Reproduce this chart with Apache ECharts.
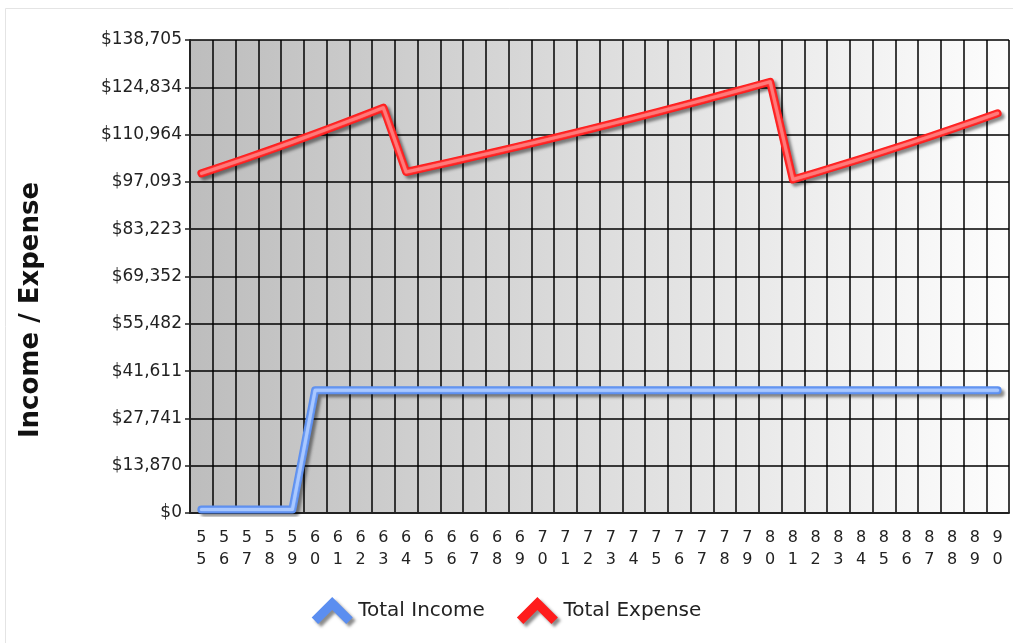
<!DOCTYPE html>
<html>
<head>
<meta charset="utf-8">
<script src="https://cdn.jsdelivr.net/npm/echarts@6/dist/echarts.min.js"></script>
<style>
html,body{margin:0;padding:0;background:#fff;}
#chart{width:1013px;height:643px;}
</style>
</head>
<body>
<div id="chart"></div>
<script>
var ages = ['55','56','57','58','59','60','61','62','63','64','65','66','67','68','69','70','71','72','73','74','75','76','77','78','79','80','81','82','83','84','85','86','87','88','89','90'];
var totalIncome = [1000,1000,1000,1000,1000,36000,36000,36000,36000,36000,36000,36000,36000,36000,36000,36000,36000,36000,36000,36000,36000,36000,36000,36000,36000,36000,36000,36000,36000,36000,36000,36000,36000,36000,36000,36000];
var totalExpense = [99600,101825,104100,106425,108800,111230,113715,116255,118850,100000,101478,102978,104500,106044,107611,109202,110816,112453,114115,115802,117513,119250,121012,122801,124615,126457,97800,99788,101817,103887,105999,108154,110353,112596,114885,117220];
var yTickLabels = ['$0','$13,870','$27,741','$41,611','$55,482','$69,352','$83,223','$97,093','$110,964','$124,834','$138,705'];
var yMax = 138705;
var yStep = 13870.5;
var yTitle = 'Income / Expense';
var seriesNames = ['Total Income','Total Expense'];

var chart = echarts.init(document.getElementById('chart'), null, {renderer:'canvas'});
var chevron = 'path://M0,19 L19,0 L38,19 L32,25 L19,12 L6,25 Z';
var font = 'DejaVu Sans';
var shadow = {shadowColor:'rgba(0,0,0,0.45)', shadowBlur:3, shadowOffsetX:3, shadowOffsetY:3};
chart.setOption({
  animation:false,
  backgroundColor:'#fff',
  graphic:[
    {type:'rect', left:3, top:6, shape:{width:1030, height:700}, style:{fill:'none', stroke:'#e4e4e4', lineWidth:1}, z:-10},
    {type:'text', x:31, y:310, rotation:Math.PI/2,
     style:{text:yTitle, font:'bold 26px "DejaVu Sans"', fill:'#111', align:'center', verticalAlign:'middle'}}
  ],
  grid:{left:190, right:4, top:40, bottom:130, show:true, borderWidth:0,
    backgroundColor:{type:'linear', x:0, y:0, x2:1, y2:0, colorStops:[{offset:0,color:'#bdbdbd'},{offset:1,color:'#fdfdfd'}]}},
  legend:{
    data:[{name:seriesNames[0], icon:chevron},{name:seriesNames[1], icon:chevron}],
    bottom:14, left:'center', itemWidth:42, itemHeight:27, itemGap:32,
    textStyle:{fontFamily:font, fontSize:20, color:'#222'},
    itemStyle:shadow
  },
  xAxis:{
    type:'category', data:ages, boundaryGap:true,
    axisLine:{show:true, lineStyle:{color:'#222', width:2}},
    axisTick:{show:false},
    axisLabel:{interval:0, margin:14, fontFamily:font, fontSize:16, lineHeight:22, color:'#222',
      formatter:function(v){return v.split('').join('\n');}},
    splitLine:{show:true, interval:0, lineStyle:{color:'#000', width:1.5}}
  },
  yAxis:{
    type:'value', min:0, max:yMax, interval:yStep,
    axisLine:{show:true, lineStyle:{color:'#222', width:2}},
    axisTick:{show:true, length:5, lineStyle:{color:'#222', width:1.5}},
    axisLabel:{margin:8, fontFamily:font, fontSize:17, color:'#222',
      formatter:function(v){return yTickLabels[Math.round(v/yStep)];}},
    splitLine:{show:true, lineStyle:{color:'#000', width:1.5}}
  },
  series:[
    {name:seriesNames[0], type:'line', data:totalIncome, symbol:'none', color:'#5b8ef0',
     lineStyle:Object.assign({width:8, color:'#5b8ef0', cap:'round', join:'round'}, shadow), z:3},
    {name:seriesNames[0]+' hl', type:'line', data:totalIncome, symbol:'none', silent:true,
     lineStyle:{width:3, color:'#a9c8ff', cap:'round', join:'round', shadowColor:'#a9c8ff', shadowBlur:2}, z:4},
    {name:seriesNames[1], type:'line', data:totalExpense, symbol:'none', color:'#ff1c1c',
     lineStyle:Object.assign({width:8, color:'#ff1c1c', cap:'round', join:'round'}, shadow), z:3},
    {name:seriesNames[1]+' hl', type:'line', data:totalExpense, symbol:'none', silent:true,
     lineStyle:{width:3, color:'#ff7a7a', cap:'round', join:'round', shadowColor:'#ff7a7a', shadowBlur:2}, z:4}
  ]
});
</script>
</body>
</html>
